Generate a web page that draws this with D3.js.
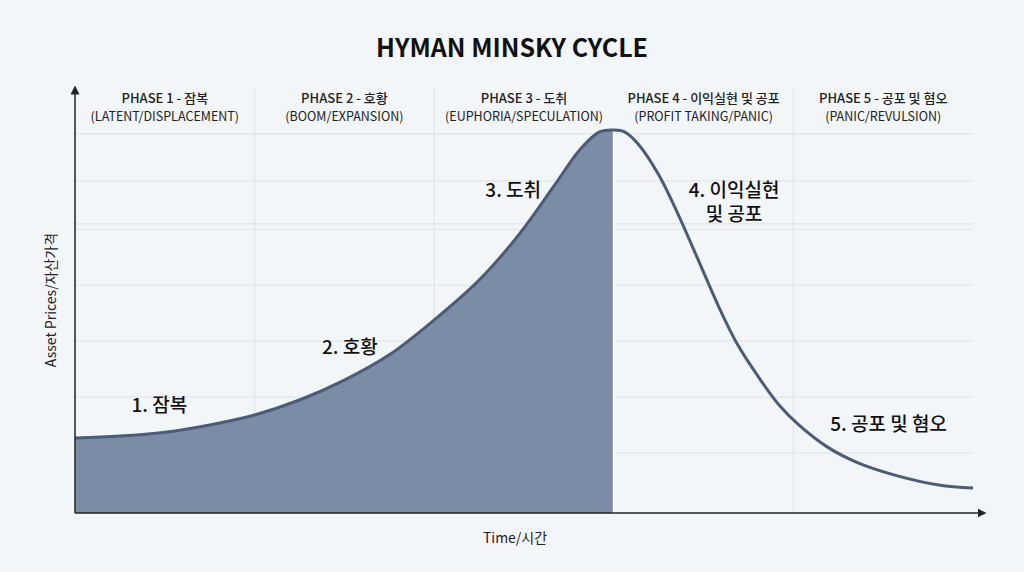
<!DOCTYPE html>
<html><head><meta charset="utf-8">
<script src="https://cdn.jsdelivr.net/npm/d3@7.9.0/dist/d3.min.js"></script>
<style>
body{margin:0;background:#f3f6f9;font-family:"Noto Sans CJK KR","Noto Sans",sans-serif;}
</style></head>
<body><svg id="chart" width="1024" height="572"></svg>
<script>
/* data */
const phaseTitles = ['PHASE 1 - 잠복','PHASE 2 - 호황','PHASE 3 - 도취','PHASE 4 - 이익실현 및 공포','PHASE 5 - 공포 및 혐오'];
const phaseSubs = ['(LATENT/DISPLACEMENT)','(BOOM/EXPANSION)','(EUPHORIA/SPECULATION)','(PROFIT TAKING/PANIC)','(PANIC/REVULSION)'];
const curveT = [0,0.25,0.5,0.75,1,1.25,1.5,1.75,2,2.25,2.47,2.67,2.81,2.92,3,3.06,3.14,3.25,3.36,3.47,3.58,3.69,3.81,3.92,4.03,4.19,4.36,4.58,4.81,5];
const curveV = [19.6,20.1,21.1,23.0,25.6,29.5,34.7,41.3,50.4,60.8,72.6,85.6,94.8,99.5,100,99.5,96.1,88.3,77.8,66.1,54.3,43.9,35.2,28.2,23.0,17.2,13.1,9.7,7.3,6.5];
const gridV = [99,86.7,75.5,74,59.5,44.9,30.3,15.7];
const stageLabels = [
  {t:0.47, v:26.5, lines:['1. 잠복']},
  {t:1.53, v:41.5, lines:['2. 호황']},
  {t:2.44, v:82.5, lines:['3. 도취']},
  {t:3.67, v:82.5, lines:['4. 이익실현','및 공포']},
  {t:4.53, v:21.5, lines:['5. 공포 및 혐오']}
];

const svg = d3.select('#chart');
const x = d3.scaleLinear().domain([0,5]).range([75,973]);
const y = d3.scaleLinear().domain([0,100]).range([513,130]);
const pts = curveT.map((t,i)=>({t, v:curveV[i]}));

/* grid */
svg.append('g').selectAll('line').data(gridV).join('line')
  .attr('x1',75).attr('x2',973).attr('y1',d=>y(d)).attr('y2',d=>y(d))
  .attr('stroke','#dde2e8').attr('stroke-width',1);
svg.append('g').selectAll('line').data([1,2,4]).join('line')
  .attr('x1',d=>x(d)).attr('x2',d=>x(d)).attr('y1',88).attr('y2',513)
  .attr('stroke','#dde2e8').attr('stroke-width',1);

/* area */
const curve = d3.curveCatmullRom.alpha(0.5);
svg.append('path').datum(pts.filter(d=>d.t<=3))
  .attr('d', d3.area().x(d=>x(d.t)).y0(y(0)).y1(d=>y(d.v)).curve(curve))
  .attr('fill','#7b8ca6');
svg.append('line').attr('x1',x(3)).attr('x2',x(3)).attr('y1',y(100)).attr('y2',y(0))
  .attr('stroke','#ffffff').attr('stroke-width',2);
svg.append('path').datum(pts)
  .attr('d', d3.line().x(d=>x(d.t)).y(d=>y(d.v)).curve(curve))
  .attr('fill','none').attr('stroke','#4b5b78').attr('stroke-width',3);

/* axes */
svg.append('defs').append('marker').attr('id','arr').attr('viewBox','0 0 10 10')
  .attr('refX',5).attr('refY',5).attr('markerWidth',6).attr('markerHeight',6).attr('orient','auto-start-reverse')
  .append('path').attr('d','M0,0L10,5L0,10z').attr('fill','#222');
svg.append('line').attr('x1',75).attr('y1',513).attr('x2',75).attr('y2',90)
  .attr('stroke','#222').attr('stroke-width',1.5).attr('marker-end','url(#arr)');
svg.append('line').attr('x1',75).attr('y1',513).attr('x2',982).attr('y2',513)
  .attr('stroke','#222').attr('stroke-width',1.5).attr('marker-end','url(#arr)');

/* headers */
const hd = svg.append('g').selectAll('g').data(phaseTitles).join('g')
  .attr('transform',(d,i)=>`translate(${x(i+0.5)},0)`).attr('text-anchor','middle').attr('fill','#222');
hd.append('text').attr('y',103).attr('font-size',13).attr('font-weight',500).text(d=>d);
hd.append('text').attr('y',121).attr('font-size',12.5).text((d,i)=>phaseSubs[i]);

/* stage labels */
svg.append('g').selectAll('text').data(stageLabels).join('text')
  .attr('x',d=>x(d.t)).attr('y',d=>y(d.v)).attr('text-anchor','middle')
  .attr('font-size',19).attr('font-weight',500).attr('fill','#111')
  .each(function(d){
    d3.select(this).selectAll('tspan').data(d.lines).join('tspan')
      .attr('x',x(d.t)).attr('dy',(l,i)=>i?24:0).text(l=>l);
  });

/* titles */
svg.append('text').attr('x',512).attr('y',57).attr('text-anchor','middle')
  .attr('font-size',25).attr('font-weight','bold').attr('fill','#111').text('HYMAN MINSKY CYCLE');
svg.append('text').attr('x',515).attr('y',543).attr('text-anchor','middle')
  .attr('font-size',14).attr('fill','#222').text('Time/시간');
svg.append('text').attr('transform','translate(56,300) rotate(-90)').attr('text-anchor','middle')
  .attr('font-size',14).attr('fill','#222').text('Asset Prices/자산가격');
</script></body></html>
